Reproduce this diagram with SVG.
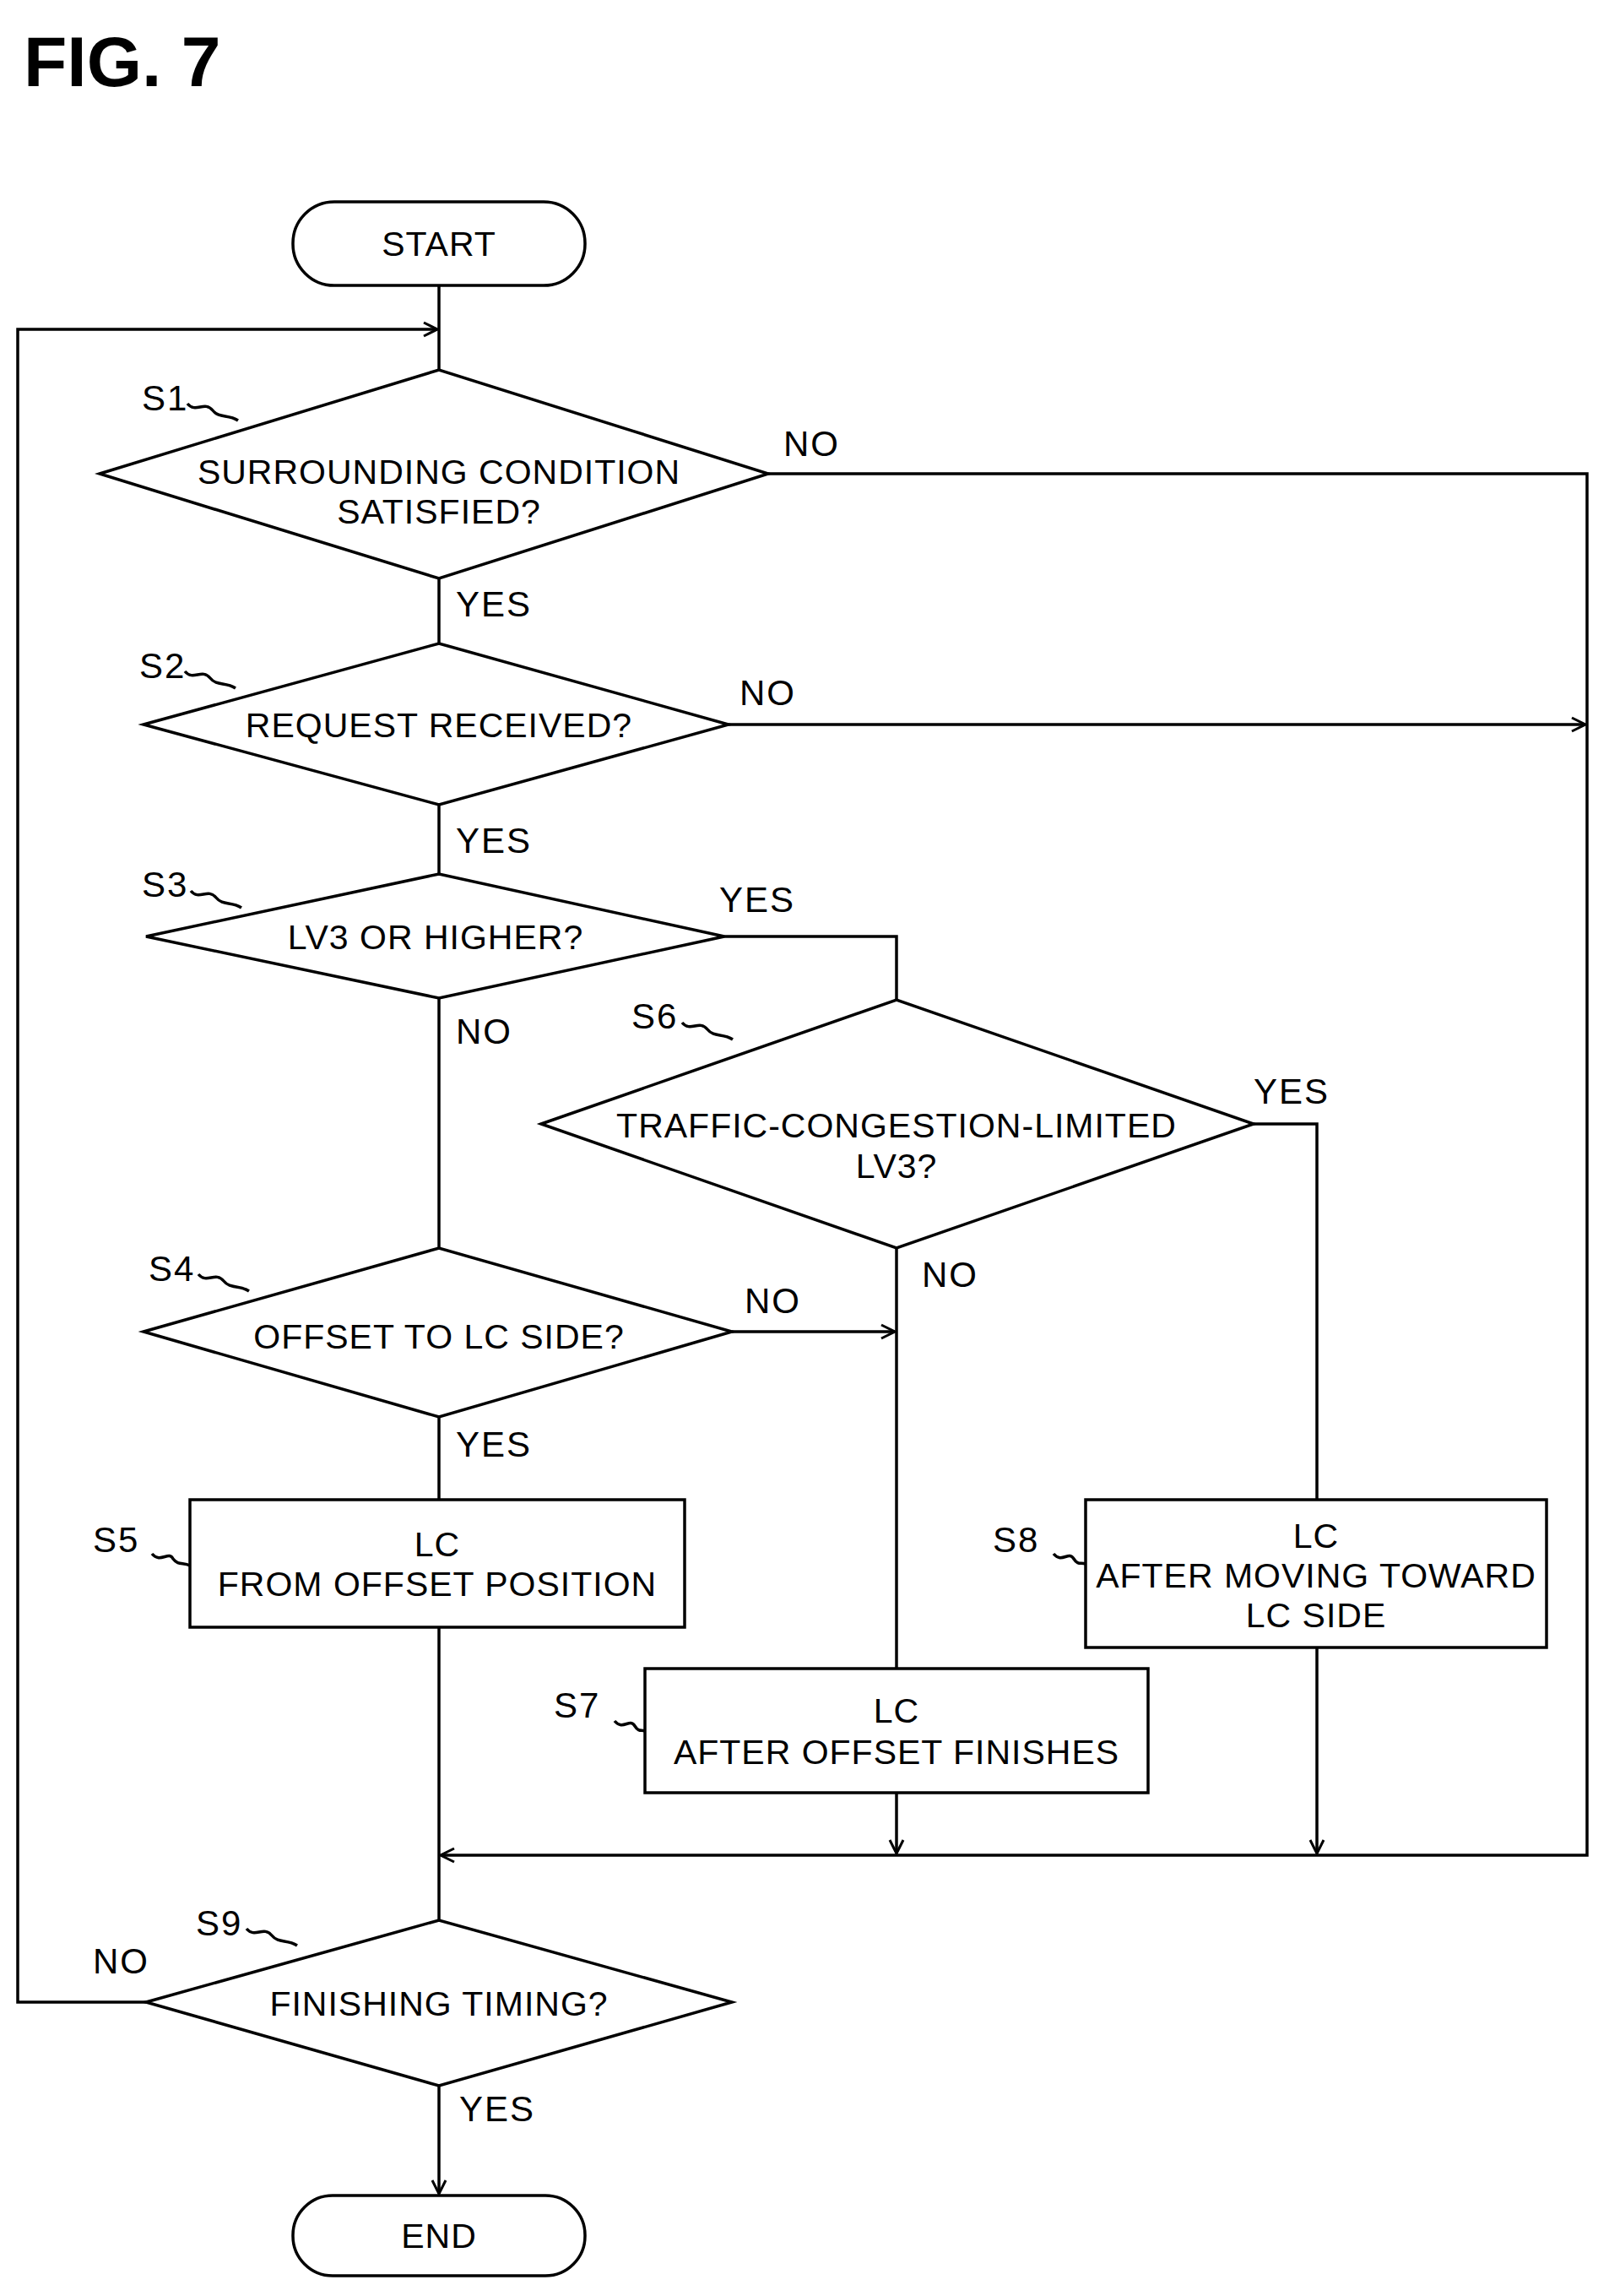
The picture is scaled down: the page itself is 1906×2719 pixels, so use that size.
<svg xmlns="http://www.w3.org/2000/svg" width="1906" height="2719" viewBox="0 0 1906 2719">
<style>
.s{fill:none;stroke:#000;stroke-width:3.5}
.t{font-family:"Liberation Sans",Arial,sans-serif;font-size:41px;text-anchor:middle;letter-spacing:1px}
.l{font-family:"Liberation Sans",Arial,sans-serif;font-size:42px;letter-spacing:2px}
.f{font-family:"Liberation Sans",Arial,sans-serif;font-size:84px;font-weight:bold}
</style>
<defs>
<marker id="a" markerWidth="20" markerHeight="20" refX="18" refY="10" orient="auto" markerUnits="userSpaceOnUse">
<path d="M2,2 L18,10 L2,18" fill="none" stroke="#000" stroke-width="3"/>
</marker>
</defs>
<rect width="1906" height="2719" fill="#fff"/>
<text class="f" x="28" y="102">FIG. 7</text>
<g id="connectors" class="s">
<line x1="520" y1="338" x2="520" y2="438"/>
<line x1="520" y1="685" x2="520" y2="762"/>
<line x1="520" y1="953" x2="520" y2="1035"/>
<line x1="520" y1="1182" x2="520" y2="1478"/>
<line x1="520" y1="1678" x2="520" y2="1776"/>
<line x1="520" y1="1927" x2="520" y2="2274"/>
<line x1="520" y1="2470" x2="520" y2="2598" marker-end="url(#a)"/>
<polyline points="173,2371 21,2371 21,390 518,390" marker-end="url(#a)"/>
<polyline points="910,561 1880,561 1880,2197 522,2197" marker-end="url(#a)"/>
<line x1="863" y1="858" x2="1878" y2="858" marker-end="url(#a)"/>
<polyline points="858,1109 1062,1109 1062,1184"/>
<polyline points="1485,1331 1560,1331 1560,1776"/>
<line x1="1062" y1="1478" x2="1062" y2="1976"/>
<line x1="867" y1="1577" x2="1060" y2="1577" marker-end="url(#a)"/>
<line x1="1062" y1="2123" x2="1062" y2="2195" marker-end="url(#a)"/>
<line x1="1560" y1="1951" x2="1560" y2="2195" marker-end="url(#a)"/>
<path d="M222,478 c10,12 20,-4 30,8 c8,10 18,4 30,12"/>
<path d="M219,795 c10,12 20,-4 30,8 c8,10 18,4 30,12"/>
<path d="M226,1055 c10,12 20,-4 30,8 c8,10 18,4 30,12"/>
<path d="M808,1211 c10,12 20,-4 30,8 c8,10 18,4 30,12"/>
<path d="M235,1509 c10,12 20,-4 30,8 c8,10 18,4 30,12"/>
<path d="M180,1840 c10,12 20,-4 25,6 c6,8 12,4 20,8"/>
<path d="M728,2038 c10,12 18,-4 24,6 c5,8 8,4 12,6"/>
<path d="M1248,1840 c10,12 18,-4 24,6 c5,8 8,4 14,6"/>
<path d="M292,2284 c10,12 20,-4 30,8 c8,10 18,4 30,12"/>
</g>
<g id="start"><rect class="s" x="347" y="239" width="346" height="99" rx="49"/><text class="t" x="520" y="303">START</text></g>
<g id="s1"><polygon class="s" points="118,561 520,438 910,561 520,685"/><text class="t" x="520" y="573">SURROUNDING CONDITION</text><text class="t" x="520" y="620">SATISFIED?</text><text class="l" x="168" y="486">S1</text><text class="l" x="928" y="540">NO</text><text class="l" x="540" y="730">YES</text></g>
<g id="s2"><polygon class="s" points="170,858 520,762 863,858 520,953"/><text class="t" x="520" y="873">REQUEST RECEIVED?</text><text class="l" x="165" y="803">S2</text><text class="l" x="876" y="835">NO</text><text class="l" x="540" y="1010">YES</text></g>
<g id="s3"><polygon class="s" points="173,1109 520,1035 858,1109 520,1182"/><text class="t" x="516" y="1124">LV3 OR HIGHER?</text><text class="l" x="168" y="1062">S3</text><text class="l" x="852" y="1080">YES</text><text class="l" x="540" y="1236">NO</text></g>
<g id="s6"><polygon class="s" points="641,1331 1062,1184 1485,1331 1062,1478"/><text class="t" x="1062" y="1347">TRAFFIC-CONGESTION-LIMITED</text><text class="t" x="1062" y="1395">LV3?</text><text class="l" x="748" y="1218">S6</text><text class="l" x="1485" y="1307">YES</text><text class="l" x="1092" y="1524">NO</text></g>
<g id="s4"><polygon class="s" points="170,1577 520,1478 867,1577 520,1678"/><text class="t" x="520" y="1597">OFFSET TO LC SIDE?</text><text class="l" x="176" y="1517">S4</text><text class="l" x="882" y="1555">NO</text><text class="l" x="540" y="1725">YES</text></g>
<g id="s5"><rect class="s" x="225" y="1776" width="586" height="151"/><text class="t" x="518" y="1843">LC</text><text class="t" x="518" y="1890">FROM OFFSET POSITION</text><text class="l" x="110" y="1838">S5</text></g>
<g id="s7"><rect class="s" x="764" y="1976" width="596" height="147"/><text class="t" x="1062" y="2040">LC</text><text class="t" x="1062" y="2089">AFTER OFFSET FINISHES</text><text class="l" x="656" y="2034">S7</text></g>
<g id="s8"><rect class="s" x="1286" y="1776" width="546" height="175"/><text class="t" x="1559" y="1833">LC</text><text class="t" x="1559" y="1880">AFTER MOVING TOWARD</text><text class="t" x="1559" y="1927">LC SIDE</text><text class="l" x="1176" y="1838">S8</text></g>
<g id="s9"><polygon class="s" points="173,2371 520,2274 867,2371 520,2470"/><text class="t" x="520" y="2387">FINISHING TIMING?</text><text class="l" x="232" y="2292">S9</text><text class="l" x="110" y="2337">NO</text><text class="l" x="544" y="2512">YES</text></g>
<g id="end"><rect class="s" x="347" y="2600" width="346" height="95" rx="47"/><text class="t" x="520" y="2662">END</text></g>
</svg>
